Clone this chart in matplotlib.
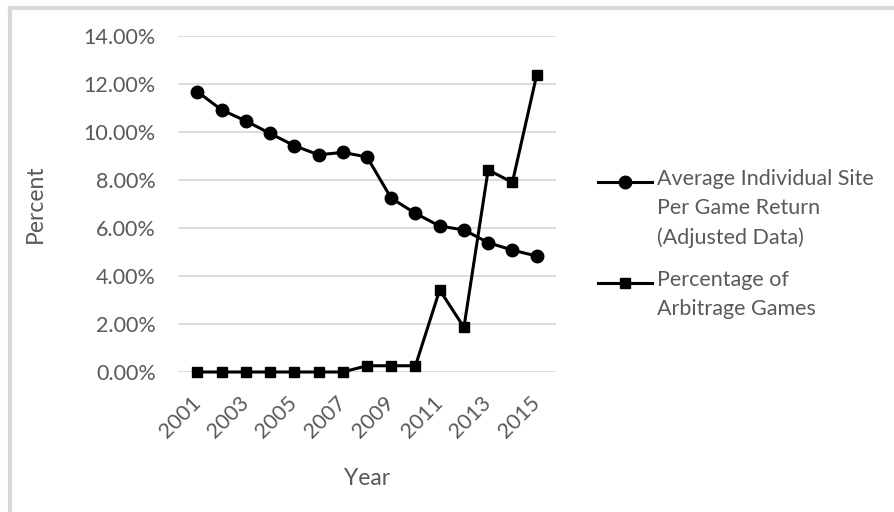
import matplotlib
matplotlib.use("Agg")
import matplotlib.pyplot as plt
from matplotlib.lines import Line2D
from matplotlib.ticker import FuncFormatter, MultipleLocator

years = list(range(2001, 2016))
avg_return = [11.68, 10.92, 10.46, 9.94, 9.43, 9.05, 9.15, 8.96,
              7.24, 6.61, 6.08, 5.92, 5.39, 5.08, 4.83]
arbitrage = [0.0, 0.0, 0.0, 0.0, 0.0, 0.0, 0.0, 0.26,
             0.26, 0.26, 3.42, 1.86, 8.42, 7.90, 12.36]
labels = ["Average Individual Site\nPer Game Return\n(Adjusted Data)",
          "Percentage of\nArbitrage Games"]
markers = [("o", 9), ("s", 6.5)]

plt.rcParams['font.family'] = ['Lato', 'DejaVu Sans']
GRAY = "#595959"
FS = 15.5

fig = plt.figure(figsize=(8.94, 5.12), dpi=100)
ax = fig.add_axes([178 / 894, 1 - 372 / 512, (556 - 178) / 894, (372 - 36) / 512])

for series, (m, ms) in zip([avg_return, arbitrage], markers):
    ax.plot(years, series, color="black", lw=2.2, marker=m, ms=ms, clip_on=False)

ax.set_xlim(2000.2, 2015.8)
ax.set_ylim(0, 14)
ax.yaxis.set_major_locator(MultipleLocator(2))
ax.yaxis.set_major_formatter(FuncFormatter(lambda v, p: f"{v:.2f}%"))
ax.set_xticks(years[::2])
ax.set_xticklabels([str(y) for y in years[::2]], rotation=45, ha="right",
                   va="center", rotation_mode="anchor")
ax.tick_params(length=0, labelsize=FS, colors=GRAY)
ax.tick_params(axis="y", pad=16)
ax.tick_params(axis="x", pad=20)
ax.grid(axis="y", color="#d9d9d9", lw=1.3)
ax.set_axisbelow(True)
for s in ax.spines.values():
    s.set_visible(False)

ax.set_xlabel("Year", fontsize=FS + 1, color=GRAY)
ax.xaxis.set_label_coords((367 - 178) / 378, (372 - 468) / 336)
ax.set_ylabel("Percent", fontsize=FS + 1, color=GRAY, va="center")
ax.yaxis.set_label_coords((35 - 178) / 378, 0.5)

# legend drawn by hand so the marker sits on the first text line
for (m, ms), lab, y in zip(markers, labels, [182, 283]):
    fy = 1 - y / 512
    fig.add_artist(Line2D([598 / 894, 652 / 894], [fy, fy], color="black", lw=2.2,
                          transform=fig.transFigure))
    fig.add_artist(Line2D([625 / 894], [fy], color="black", marker=m, ms=ms,
                          transform=fig.transFigure))
    fig.text(657 / 894, 1 - (y - 13) / 512, lab, fontsize=FS, color=GRAY,
             va="top", ha="left", linespacing=1.58)

# chart frame (left and top edges visible)
fig.add_artist(Line2D([10 / 894, 10 / 894], [0, 1 - 8 / 512], color="#d9d9d9", lw=3,
                      transform=fig.transFigure))
fig.add_artist(Line2D([10 / 894, 1], [1 - 8 / 512, 1 - 8 / 512], color="#d9d9d9", lw=3,
                      transform=fig.transFigure))

fig.savefig("out.png", dpi=100)
